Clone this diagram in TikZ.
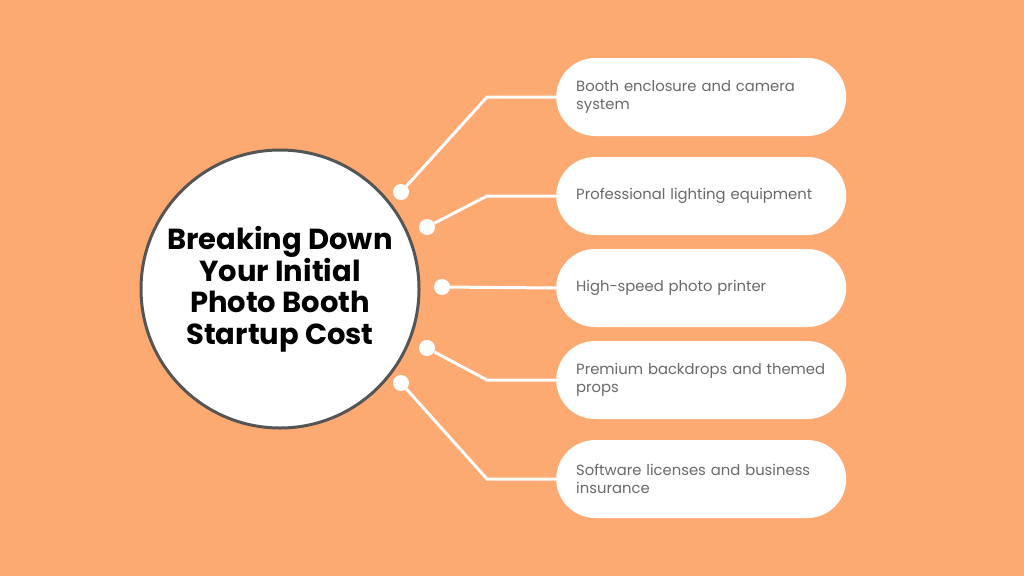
\documentclass[tikz,border=0pt]{standalone}
\usepackage{fontspec}
\setmainfont{Poppins}
\usepackage{xcolor}
\usetikzlibrary{math}
\definecolor{bgorange}{RGB}{253,169,114}
\definecolor{itemgray}{RGB}{105,105,105}
\definecolor{ringgray}{RGB}{85,85,85}

\tikzset{
  pill/.style={fill=white, minimum width=290pt, minimum height=78pt, rounded corners=39pt,
    anchor=west, inner xsep=20pt, text width=250pt, align=left, text=itemgray,
    font=\fontsize{14.8}{18}\selectfont},
  dot/.style={circle, fill=white, minimum size=16pt, inner sep=0pt},
  link/.style={white, line width=3pt},
}

\begin{document}
\begin{tikzpicture}[x=1pt,y=-1pt]
\tikzmath{
\xl=556;
\xe=487;
}
\useasboundingbox (0,0) rectangle (1024,576);
\fill[bgorange] (0,0) rectangle (1024,576);

% central circle
\node[circle, draw=ringgray, line width=3pt, fill=white, minimum size=278pt, inner sep=0pt,
  align=center, font=\fontsize{29}{31.5}\selectfont\bfseries] (title) at (280,289)
  {Breaking Down\\Your Initial\\Photo Booth\\Startup Cost};

% items
\node[pill] (p1) at (\xl,97) {Booth enclosure and camera\\system};
\node[pill] (p2) at (\xl,196) {Professional lighting equipment};
\node[pill] (p3) at (\xl,288) {High-speed photo printer};
\node[pill] (p4) at (\xl,380) {Premium backdrops and themed\\props};
\node[pill] (p5) at (\xl,479) {Software licenses and business\\insurance};

% dots on the ring side
\node[dot] (d1) at (401,192) {};
\node[dot] (d2) at (427,227) {};
\node[dot] (d3) at (442,287) {};
\node[dot] (d4) at (427,348) {};
\node[dot] (d5) at (401,383) {};

% connectors
\coordinate (e1) at (\xe,97);
\coordinate (e2) at (\xe,196);
\coordinate (e4) at (\xe,380);
\coordinate (e5) at (\xe,479);
\draw[link] (d1) -- (e1) -- (p1.west);
\draw[link] (d2) -- (e2) -- (p2.west);
\draw[link] (d3) -- (p3.west);
\draw[link] (d4) -- (e4) -- (p4.west);
\draw[link] (d5) -- (e5) -- (p5.west);
\end{tikzpicture}
\end{document}
